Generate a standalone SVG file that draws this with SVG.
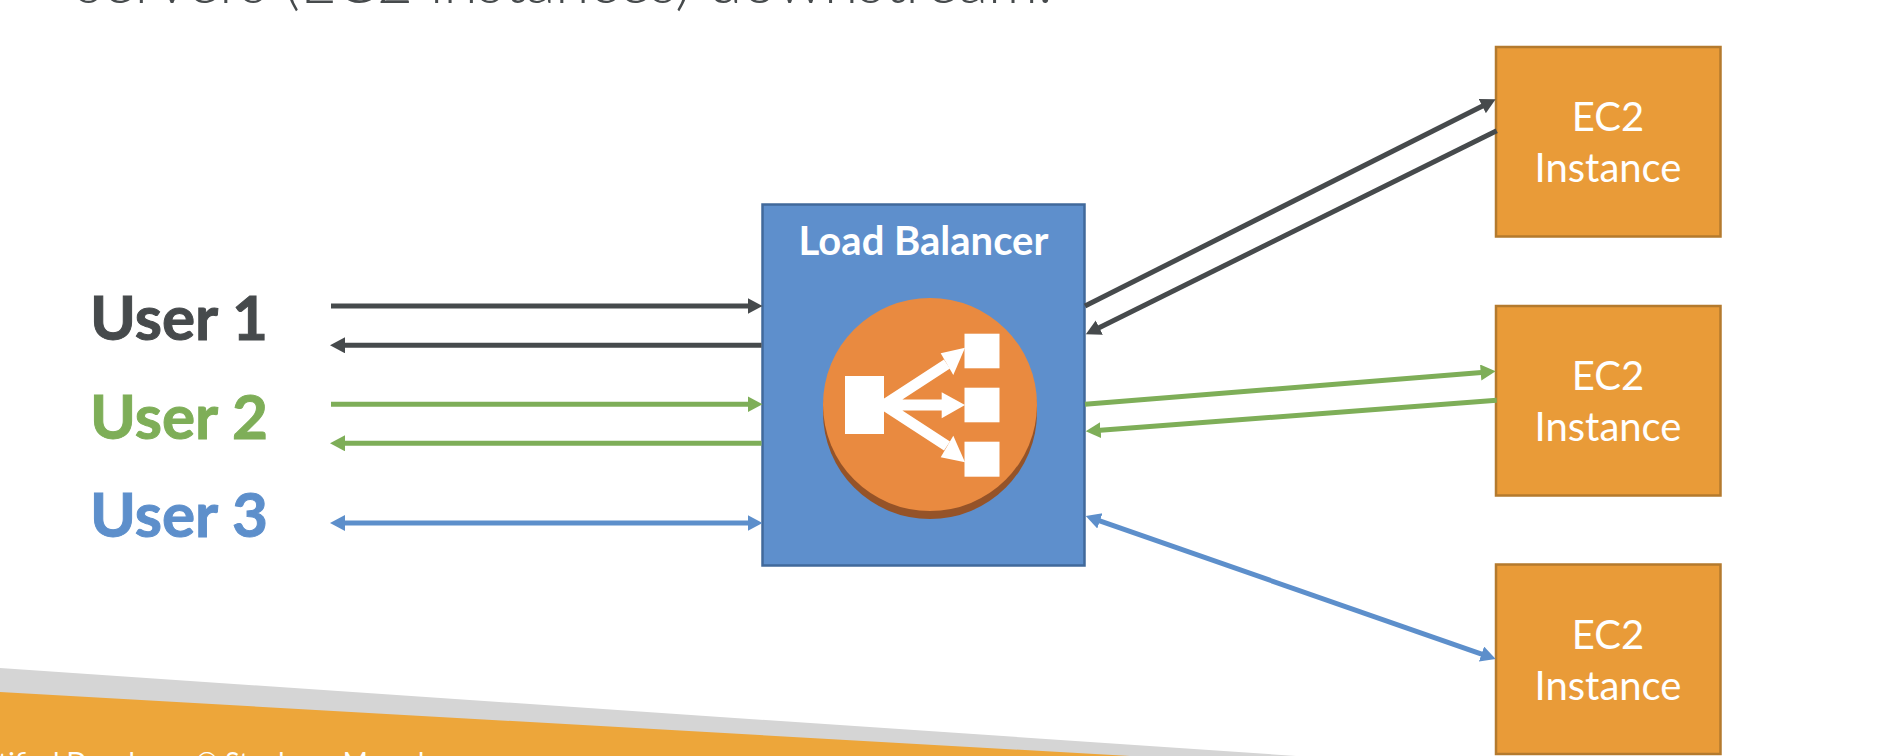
<svg xmlns="http://www.w3.org/2000/svg" width="1900" height="756" viewBox="0 0 1900 756">
<style>
text{font-family:Lato,"Noto Sans","Liberation Sans",sans-serif}
.box{fill:#E99B38;stroke:#B47A2D;stroke-width:2.5}
.ec{fill:#fff;font-size:40px;text-anchor:middle}
.user{font-size:62px;font-weight:700;stroke-width:1}
.c{fill:none;stroke-width:5}
.k{stroke:#464A4C}.g{stroke:#7EAE58}.b{stroke:#5D8FCB}
.w{stroke:#fff;stroke-width:11;fill:none}
</style>
<defs>
<marker id="ak" markerUnits="userSpaceOnUse" markerWidth="17" markerHeight="17" refX="7" refY="8" orient="auto-start-reverse"><path d="M0,0L15,8L0,16z" fill="#464A4C"/></marker>
<marker id="ag" markerUnits="userSpaceOnUse" markerWidth="17" markerHeight="17" refX="7" refY="8" orient="auto-start-reverse"><path d="M0,0L15,8L0,16z" fill="#7EAE58"/></marker>
<marker id="ab" markerUnits="userSpaceOnUse" markerWidth="17" markerHeight="17" refX="7" refY="8" orient="auto-start-reverse"><path d="M0,0L15,8L0,16z" fill="#5D8FCB"/></marker>
</defs>
<rect width="1900" height="756" fill="#fff"/>
<polygon points="0,668 1296,756 0,756" fill="#D5D5D5"/>
<polygon points="0,692 1130,756 0,756" fill="#EDA63A"/>
<text x="-2" y="772" font-size="27" fill="#fff" id="footer">tified Developer © Stephane Maarek</text>
<text id="heading" y="3" font-size="62" font-weight="300" fill="#464A4C" x="76">servers (EC2 instances) downstream.</text>
<g id="user-1"><text class="user" x="90" y="340" fill="#464A4C" stroke="#464A4C">User 1</text></g>
<g id="user-2"><text class="user" x="90" y="438.7" fill="#7EAE58" stroke="#7EAE58">User 2</text></g>
<g id="user-3"><text class="user" x="90" y="536.7" fill="#5D8FCB" stroke="#5D8FCB">User 3</text></g>
<g id="load-balancer">
<rect x="762.5" y="204.5" width="322" height="361" fill="#5E8FCC" stroke="#41699B" stroke-width="2.5"/>
<text x="923.5" y="255" font-size="40" font-weight="700" fill="#fff" text-anchor="middle">Load Balancer</text>
<ellipse cx="930" cy="412.5" rx="107" ry="106.5" fill="#955328"/>
<ellipse cx="930" cy="404.5" rx="107" ry="106.5" fill="#E98A40"/>
<g fill="#fff">
<rect x="845" y="376" width="39" height="58"/>
<rect x="964.5" y="333.7" width="35" height="34.6"/>
<rect x="964.5" y="387.7" width="35" height="34.6"/>
<rect x="964.5" y="441.7" width="35" height="35"/>
<polygon points="965,347.7 940.7,353.3 953.3,375"/>
<polygon points="965,405 941.7,392.3 941.7,418.3"/>
<polygon points="965,462.3 940.7,457.3 953.3,435.7"/>
</g>
<path class="w" d="M884,405L947,364M884,405H945M884,405L947,446"/>
</g>
<g id="ec2-1"><rect class="box" x="1496" y="47" width="224.5" height="189.5"/><text class="ec" x="1608" y="131">EC2</text><text class="ec" x="1608" y="182">Instance</text></g>
<g id="ec2-2"><rect class="box" x="1496" y="306" width="224.5" height="189.5"/><text class="ec" x="1608" y="390">EC2</text><text class="ec" x="1608" y="441">Instance</text></g>
<g id="ec2-3"><rect class="box" x="1496" y="564.5" width="224.5" height="189.5"/><text class="ec" x="1608" y="648.5">EC2</text><text class="ec" x="1608" y="699.5">Instance</text></g>
<g id="connectors">
<line class="c k" x1="331" y1="306" x2="754.5" y2="306" marker-end="url(#ak)"/>
<line class="c k" x1="761.5" y1="345.3" x2="338" y2="345.3" marker-end="url(#ak)"/>
<line class="c g" x1="331" y1="404.3" x2="754.5" y2="404.3" marker-end="url(#ag)"/>
<line class="c g" x1="761.5" y1="443.3" x2="338" y2="443.3" marker-end="url(#ag)"/>
<line class="c b" x1="338" y1="523" x2="754.5" y2="523" marker-start="url(#ab)" marker-end="url(#ab)"/>
<line class="c k" x1="1085" y1="306" x2="1488.5" y2="102.9" marker-end="url(#ak)"/>
<line class="c k" x1="1496.7" y1="130.7" x2="1093" y2="330.7" marker-end="url(#ak)"/>
<line class="c g" x1="1085" y1="404.3" x2="1487.7" y2="372" marker-end="url(#ag)"/>
<line class="c g" x1="1496.7" y1="400.3" x2="1093.7" y2="430.7" marker-end="url(#ag)"/>
<line class="c b" x1="1093.3" y1="518.6" x2="1488.1" y2="656.4" marker-start="url(#ab)" marker-end="url(#ab)"/>
</g>
</svg>
